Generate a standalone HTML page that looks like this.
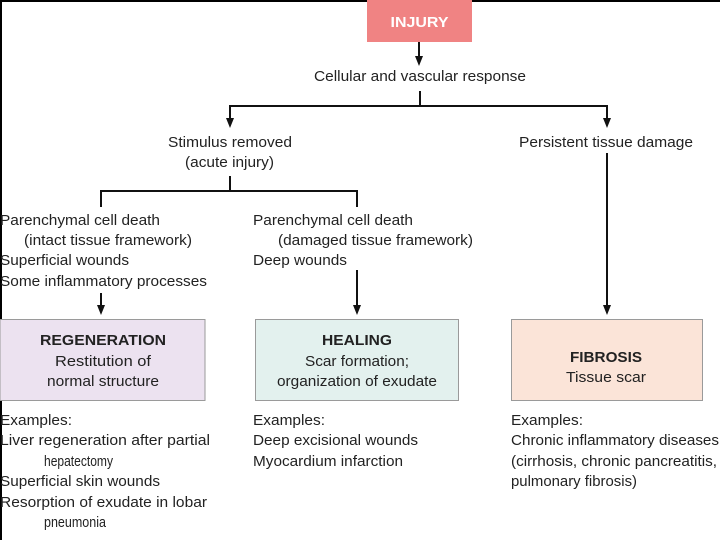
<!DOCTYPE html>
<html><head><meta charset="utf-8"><style>
html,body{margin:0;padding:0;background:#fff;}
svg{display:block;}
text{font-family:"Liberation Sans",Arial,sans-serif;font-size:15px;fill:#222;}
.b{font-weight:bold;}
</style></head><body>
<svg width="720" height="540" viewBox="0 0 720 540" xmlns="http://www.w3.org/2000/svg">
<rect x="0" y="0" width="720" height="540" fill="#fff"/>
<rect x="0" y="0" width="720" height="2" fill="#000"/>
<rect x="0" y="0" width="2" height="540" fill="#000"/>
<rect x="367" y="0" width="105" height="42" fill="#f08383"/>
<text x="419.5" y="27" text-anchor="middle" class="b" style="fill:#fff" textLength="58" lengthAdjust="spacingAndGlyphs">INJURY</text>
<g stroke="#111" stroke-width="2" fill="none">
<line x1="419" y1="42" x2="419" y2="58"/>
<line x1="420" y1="91" x2="420" y2="106"/>
<polyline points="230,120 230,106 607,106 607,120"/>
<line x1="230" y1="176" x2="230" y2="191"/>
<polyline points="101,207 101,191 357,191 357,207"/>
<line x1="101" y1="293" x2="101" y2="307"/>
<line x1="357" y1="270" x2="357" y2="307"/>
<line x1="607" y1="153" x2="607" y2="307"/>
</g>
<g fill="#111">
<polygon points="415,56 423,56 419,66"/>
<polygon points="226,118 234,118 230,128"/>
<polygon points="603,118 611,118 607,128"/>
<polygon points="97,305 105,305 101,315"/>
<polygon points="353,305 361,305 357,315"/>
<polygon points="603,305 611,305 607,315"/>
</g>
<text x="314" y="81" textLength="212" lengthAdjust="spacingAndGlyphs">Cellular and vascular response</text>
<text x="168" y="147" textLength="124" lengthAdjust="spacingAndGlyphs">Stimulus removed</text>
<text x="185" y="167" textLength="89" lengthAdjust="spacingAndGlyphs">(acute injury)</text>
<text x="519" y="147" textLength="174" lengthAdjust="spacingAndGlyphs">Persistent tissue damage</text>
<text x="0" y="225" textLength="160" lengthAdjust="spacingAndGlyphs">Parenchymal cell death</text>
<text x="24" y="245" textLength="168" lengthAdjust="spacingAndGlyphs">(intact tissue framework)</text>
<text x="0" y="265" textLength="129" lengthAdjust="spacingAndGlyphs">Superficial wounds</text>
<text x="0" y="286" textLength="207" lengthAdjust="spacingAndGlyphs">Some inflammatory processes</text>
<text x="253" y="225" textLength="160" lengthAdjust="spacingAndGlyphs">Parenchymal cell death</text>
<text x="278" y="245" textLength="195" lengthAdjust="spacingAndGlyphs">(damaged tissue framework)</text>
<text x="253" y="265" textLength="94" lengthAdjust="spacingAndGlyphs">Deep wounds</text>
<rect x="0" y="319.5" width="205" height="81" fill="#ece2f0" stroke="#9a9a9a"/>
<rect x="255.5" y="319.5" width="203" height="81" fill="#e3f1ee" stroke="#9a9a9a"/>
<rect x="511.5" y="319.5" width="191" height="81" fill="#fbe4d8" stroke="#9a9a9a"/>
<text x="103" y="345" text-anchor="middle" class="b" textLength="126" lengthAdjust="spacingAndGlyphs">REGENERATION</text>
<text x="103" y="366" text-anchor="middle" textLength="96" lengthAdjust="spacingAndGlyphs">Restitution of</text>
<text x="103" y="386" text-anchor="middle" textLength="112" lengthAdjust="spacingAndGlyphs">normal structure</text>
<text x="357" y="345" text-anchor="middle" class="b" textLength="70" lengthAdjust="spacingAndGlyphs">HEALING</text>
<text x="357" y="366" text-anchor="middle" textLength="104" lengthAdjust="spacingAndGlyphs">Scar formation;</text>
<text x="357" y="386" text-anchor="middle" textLength="160" lengthAdjust="spacingAndGlyphs">organization of exudate</text>
<text x="606" y="362" text-anchor="middle" class="b" textLength="72" lengthAdjust="spacingAndGlyphs">FIBROSIS</text>
<text x="606" y="382" text-anchor="middle" textLength="80" lengthAdjust="spacingAndGlyphs">Tissue scar</text>
<text x="0" y="425" textLength="72" lengthAdjust="spacingAndGlyphs">Examples:</text>
<text x="0" y="445" textLength="210" lengthAdjust="spacingAndGlyphs">Liver regeneration after partial</text>
<text x="44" y="466" textLength="69" lengthAdjust="spacingAndGlyphs">hepatectomy</text>
<text x="0" y="486" textLength="160" lengthAdjust="spacingAndGlyphs">Superficial skin wounds</text>
<text x="0" y="507" textLength="207" lengthAdjust="spacingAndGlyphs">Resorption of exudate in lobar</text>
<text x="44" y="527" textLength="62" lengthAdjust="spacingAndGlyphs">pneumonia</text>
<text x="253" y="425" textLength="72" lengthAdjust="spacingAndGlyphs">Examples:</text>
<text x="253" y="445" textLength="165" lengthAdjust="spacingAndGlyphs">Deep excisional wounds</text>
<text x="253" y="466" textLength="150" lengthAdjust="spacingAndGlyphs">Myocardium infarction</text>
<text x="511" y="425" textLength="72" lengthAdjust="spacingAndGlyphs">Examples:</text>
<text x="511" y="445" textLength="208" lengthAdjust="spacingAndGlyphs">Chronic inflammatory diseases</text>
<text x="511" y="466" textLength="206" lengthAdjust="spacingAndGlyphs">(cirrhosis, chronic pancreatitis,</text>
<text x="511" y="486" textLength="126" lengthAdjust="spacingAndGlyphs">pulmonary fibrosis)</text>
</svg>
</body></html>
